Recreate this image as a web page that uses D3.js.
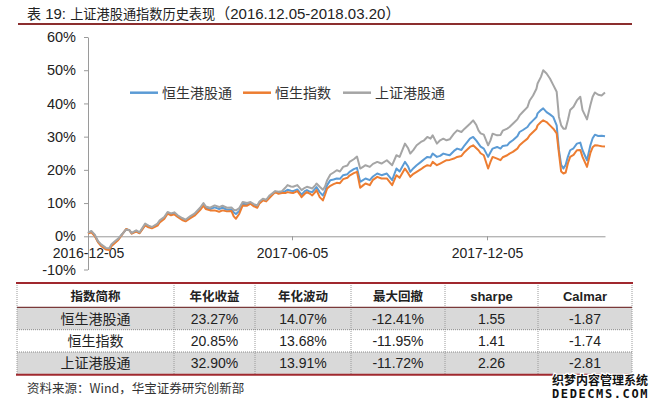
<!DOCTYPE html>
<html><head><meta charset="utf-8">
<script src="https://cdn.jsdelivr.net/npm/d3@7/dist/d3.min.js"></script>
<style>body{margin:0;background:#fff}svg{display:block}</style>
</head><body>
<svg id="c" width="660" height="404"></svg>
<script>
// ---------------- data ----------------
const dates = [
"2016-12-05","2016-12-08","2016-12-11","2016-12-14","2016-12-17","2016-12-21","2016-12-24","2016-12-26","2016-12-29","2017-01-01",
"2017-01-04","2017-01-08","2017-01-11","2017-01-13","2017-01-17","2017-01-20","2017-01-25","2017-01-28","2017-01-31","2017-02-05",
"2017-02-07","2017-02-11","2017-02-14","2017-02-17","2017-02-20","2017-02-23","2017-02-27","2017-03-02","2017-03-06","2017-03-10",
"2017-03-15","2017-03-18","2017-03-20","2017-03-24","2017-03-28","2017-04-01","2017-04-04","2017-04-08","2017-04-12","2017-04-14",
"2017-04-16","2017-04-19","2017-04-22","2017-04-26","2017-04-29","2017-05-02","2017-05-05","2017-05-07","2017-05-10","2017-05-13",
"2017-05-16","2017-05-21","2017-05-24","2017-05-27","2017-05-30","2017-06-01","2017-06-04",
"2017-06-06","2017-06-10","2017-06-13","2017-06-14","2017-06-17","2017-06-19","2017-06-22","2017-06-24","2017-06-27","2017-06-28",
"2017-07-01","2017-07-04","2017-07-06","2017-07-08","2017-07-11","2017-07-14","2017-07-17","2017-07-20","2017-07-23","2017-07-27",
"2017-07-29","2017-08-02","2017-08-05","2017-08-08","2017-08-11","2017-08-13","2017-08-17","2017-08-20","2017-08-24","2017-08-28",
"2017-09-02","2017-09-07","2017-09-11","2017-09-14","2017-09-19","2017-09-22","2017-09-24","2017-09-27","2017-09-30","2017-10-04",
"2017-10-07","2017-10-10","2017-10-13","2017-10-15","2017-10-19","2017-10-22","2017-10-25","2017-10-28","2017-10-31","2017-11-04",
"2017-11-07","2017-11-11","2017-11-14","2017-11-19","2017-11-22","2017-11-25","2017-11-27","2017-11-29","2017-12-02",
"2017-12-06","2017-12-08","2017-12-10","2017-12-14","2017-12-17","2017-12-19","2017-12-23","2017-12-25","2017-12-28","2018-01-01",
"2018-01-03","2018-01-06","2018-01-10","2018-01-12","2018-01-15","2018-01-18","2018-01-19","2018-01-22","2018-01-24","2018-01-27",
"2018-01-30","2018-02-02","2018-02-05","2018-02-07","2018-02-09","2018-02-11","2018-02-13","2018-02-15","2018-02-17","2018-02-20",
"2018-02-23","2018-02-26","2018-02-28","2018-03-04","2018-03-07","2018-03-09","2018-03-11","2018-03-14","2018-03-17","2018-03-20"
];
const seriesNames = ["恒生港股通", "恒生指数", "上证港股通"];
// 恒生港股通 (blue)
const hsgt = [
0.9,1.4,0.3,-1.7,-2.8,-3.8,-3.9,-2.7,-1.8,-0.9, 0.4,2.1,1.8,0.9,1.6,1.0,3.5,2.9,2.6,3.5,
4.5,5.5,7.0,6.6,6.9,6.0,5.2,4.7,5.7,6.5, 8.3,9.5,8.6,8.2,8.7,8.2,8.6,8.0,8.1,7.2,
6.7,7.6,9.8,9.6,10.0,9.3,8.9,10.2,11.0,10.8, 11.9,13.4,13.1,13.3,13.6,14.0,13.7,
13.6,14.1,12.9,12.5,13.6,13.9,13.4,13.3,14.4,14.8, 13.3,12.3,13.6,15.4,16.9,17.1,17.4,17.3,18.4,18.7,
19.4,20.2,20.6,16.4,17.0,17.4,16.9,18.0,18.9,18.4, 18.9,16.9,20.4,19.5,22.4,21.0,19.4,20.5,21.4,22.4,
23.2,23.9,23.7,24.9,23.9,24.2,24.9,24.6,24.4,25.7, 26.4,26.0,27.4,29.4,29.9,28.8,27.9,27.0,26.4,
23.9,25.2,26.4,26.9,26.4,27.2,27.4,28.2,28.9,30.1, 31.4,32.0,32.9,33.9,34.9,35.9,37.0,38.0,38.5,37.4,
36.7,35.9,33.4,26.0,21.5,20.4,21.5,24.0,25.9,26.5, 27.9,28.2,25.9,22.9,27.4,29.5,30.6,30.2,30.3,30.1
];
// 恒生指数 (orange)
const hsi = [
0.8,1.2,0.1,-1.8,-3.0,-4.0,-4.1,-2.9,-2.0,-1.1, 0.3,2.2,1.8,0.8,1.4,0.9,3.3,2.7,2.4,3.2,
4.2,5.2,6.8,6.3,6.6,5.8,4.9,4.5,5.4,6.2, 7.9,9.2,8.2,7.8,7.8,7.4,7.8,7.5,7.6,6.0,
5.3,6.8,9.3,9.2,9.8,9.0,8.6,9.9,10.8,10.5, 11.6,13.3,12.8,13.0,13.0,13.3,13.1,
13.0,13.6,12.3,11.8,12.8,13.3,12.8,12.3,13.4,13.9, 11.8,10.8,12.5,14.4,15.2,15.7,16.1,16.0,17.2,17.6,
18.3,19.0,19.4,14.6,15.4,15.9,15.4,17.0,17.9,17.4, 17.4,15.4,18.4,17.6,20.4,19.0,17.9,18.8,19.4,20.2,
20.9,21.4,21.2,22.4,21.4,21.9,22.4,22.9,23.0,23.4, 23.9,24.2,25.4,26.9,27.4,26.5,25.9,25.0,24.4,
20.4,22.3,23.9,23.4,22.9,23.8,24.4,24.9,25.4,26.4, 27.4,28.3,29.4,30.4,31.4,32.4,33.4,34.4,34.9,34.4,
33.4,32.4,31.0,25.0,19.5,18.9,19.2,22.0,23.9,24.5, 25.9,26.0,23.9,20.9,25.1,26.8,27.4,27.3,27.1,27.0
];
// 上证港股通 (gray)
const shgt = [
1.0,1.6,0.5,-1.5,-2.5,-3.5,-3.6,-2.4,-1.5,-0.7, 0.5,2.0,1.8,1.0,1.8,1.2,3.8,3.2,2.8,3.8,
4.8,5.8,7.3,6.9,7.2,6.3,5.5,5.0,6.0,6.8, 8.6,10.0,9.0,8.6,9.3,8.8,9.2,8.6,8.7,8.0,
7.8,8.5,10.3,10.0,10.3,9.7,9.3,10.5,11.3,11.0, 12.3,13.6,13.4,13.6,14.6,15.4,15.0,
14.9,15.4,14.3,13.9,14.6,14.9,14.6,14.4,15.4,15.9, 14.9,14.0,15.0,16.9,18.6,19.2,19.9,19.5,20.9,21.3,
22.4,23.2,24.0,20.4,21.0,21.4,20.9,21.8,22.4,21.9, 22.9,21.4,24.4,23.9,27.9,26.5,24.9,26.0,27.4,28.4,
28.9,29.9,29.4,30.4,27.9,28.9,29.4,28.9,29.2,30.9, 31.9,31.4,32.4,33.9,34.9,33.5,31.9,31.0,30.6,
27.4,28.8,30.9,30.4,30.5,31.8,32.4,32.9,33.9,35.2, 36.4,37.5,38.9,40.9,42.4,44.4,46.0,48.0,50.0,49.0,
47.5,45.5,43.5,36.0,33.4,32.4,32.4,35.0,38.0,39.0, 40.9,42.0,38.0,35.2,39.5,42.0,43.3,42.6,42.4,43.3
];
const yTicks = [-10, 0, 10, 20, 30, 40, 50, 60];
const xTickDates = ["2016-12-05", "2017-06-05", "2017-12-05"];
const dateDomain = ["2016-12-05", "2017-06-05", "2017-12-05", "2018-03-20"];

const tableHeader = ["指数简称", "年化收益", "年化波动", "最大回撤", "sharpe", "Calmar"];
const tableNames = ["恒生港股通", "恒生指数", "上证港股通"];
const annReturn = ["23.27%", "20.85%", "32.90%"];
const annVol = ["14.07%", "13.68%", "13.91%"];
const maxDD = ["-12.41%", "-11.95%", "-11.72%"];
const sharpe = ["1.55", "1.41", "2.26"];
const calmar = ["-1.87", "-1.74", "-2.81"];

// ---------------- drawing ----------------
const svg = d3.select("#c");
const LAT = "'Liberation Sans', Arial, 'Noto Sans CJK SC', sans-serif";
const CJK = "'Noto Sans CJK SC', 'Liberation Sans', sans-serif";
const colors = ["#5B9BD5", "#ED7D31", "#A5A5A5"];
const parse = d3.timeParse("%Y-%m-%d");

// title
const title = svg.append("text").attr("x", 27).attr("y", 18.5).attr("fill", "#222");
title.append("tspan").attr("font-family", CJK).attr("font-size", 14).text("表");
title.append("tspan").attr("font-family", LAT).attr("font-size", 15).text(" 19: ");
title.append("tspan").attr("font-family", CJK).attr("font-size", 13.2).text("上证港股通指数历史表现");
title.append("tspan").attr("font-family", LAT).attr("font-size", 15).text("（2016.12.05-2018.03.20）");
svg.append("line").attr("x1", 18).attr("x2", 632).attr("y1", 24).attr("y2", 24)
  .attr("stroke", "#8B2E2E").attr("stroke-width", 2);

// scales
const x = d3.scaleTime().domain(dateDomain.map(parse)).range([88, 292, 487, 605]);
const y = d3.scaleLinear().domain([-10, 60]).range([269.5, 37]);

// y axis
const gy = svg.append("g").attr("transform", "translate(88,0)")
  .call(d3.axisLeft(y).tickValues(yTicks).tickFormat(d => d + "%").tickSize(4).tickSizeOuter(0).tickPadding(8));
gy.select(".domain").attr("stroke", "#9a9a9a");
gy.selectAll(".tick line").attr("stroke", "#9a9a9a");
gy.selectAll("text").attr("font-family", LAT).attr("font-size", 14.5).attr("fill", "#222");

// x axis
const gx = svg.append("g").attr("transform", `translate(0,${y(0)})`)
  .call(d3.axisBottom(x).tickValues(xTickDates.map(parse)).tickFormat(d3.timeFormat("%Y-%m-%d"))
    .tickSize(4).tickSizeOuter(0).tickPadding(8));
gx.select(".domain").attr("stroke", "#9a9a9a");
gx.selectAll(".tick line").attr("stroke", "#9a9a9a");
gx.selectAll("text").attr("font-family", LAT).attr("font-size", 14).attr("fill", "#222");

// lines
const seriesData = [hsgt, hsi, shgt];
const line = d3.line().x(d => x(d.date)).y(d => y(d.v));
seriesData.forEach((vals, i) => {
  const pts = dates.map((d, j) => ({ date: parse(d), v: vals[j] }));
  svg.append("path").datum(pts).attr("d", line).attr("fill", "none")
    .attr("stroke", colors[i]).attr("stroke-width", 2).attr("stroke-linejoin", "round");
});

// legend
const legX = [130, 243, 343];
seriesNames.forEach((n, i) => {
  svg.append("line").attr("x1", legX[i]).attr("x2", legX[i] + 28).attr("y1", 92.7).attr("y2", 92.7)
    .attr("stroke", colors[i]).attr("stroke-width", 2.5);
  svg.append("text").attr("x", legX[i] + 32).attr("y", 92.7).attr("dy", "0.36em")
    .attr("font-family", CJK).attr("font-size", 14).attr("fill", "#333").text(n);
});

// table
const colEdges = [17, 174, 255, 351, 445, 538, 632];
const rowEdges = [283, 307.3, 329.7, 352, 374.7];
const rowsTxt = tableNames.map((n, i) => [n, annReturn[i], annVol[i], maxDD[i], sharpe[i], calmar[i]]);
// fills
[0, 2].forEach(r => {
  svg.append("rect").attr("x", colEdges[0]).attr("y", rowEdges[r + 1])
    .attr("width", colEdges[6] - colEdges[0]).attr("height", rowEdges[r + 2] - rowEdges[r + 1])
    .attr("fill", "#D9D9D9");
});
// dotted verticals
colEdges.forEach(cx => {
  svg.append("line").attr("x1", cx).attr("x2", cx).attr("y1", rowEdges[0]).attr("y2", rowEdges[4])
    .attr("stroke", "#9a9a9a").attr("stroke-width", 1).attr("stroke-dasharray", "1,1");
});
// dotted horizontals between body rows
[2, 3].forEach(r => {
  svg.append("line").attr("x1", colEdges[0]).attr("x2", colEdges[6]).attr("y1", rowEdges[r]).attr("y2", rowEdges[r])
    .attr("stroke", "#8a8a8a").attr("stroke-width", 1).attr("stroke-dasharray", "1,1");
});
// header bottom
svg.append("line").attr("x1", colEdges[0]).attr("x2", colEdges[6]).attr("y1", rowEdges[1]).attr("y2", rowEdges[1])
  .attr("stroke", "#7a3a3a").attr("stroke-width", 1.3);
// top / bottom red
[rowEdges[0], rowEdges[4]].forEach(ry => {
  svg.append("line").attr("x1", colEdges[0] - 1).attr("x2", colEdges[6] + 1).attr("y1", ry).attr("y2", ry)
    .attr("stroke", "#A0282E").attr("stroke-width", 2);
});
// header text
tableHeader.forEach((h, c) => {
  const isLatin = /^[A-Za-z]/.test(h);
  svg.append("text").attr("x", (colEdges[c] + colEdges[c + 1]) / 2).attr("y", (rowEdges[0] + rowEdges[1]) / 2 + 1)
    .attr("dy", "0.36em").attr("text-anchor", "middle")
    .attr("font-family", isLatin ? LAT : CJK).attr("font-weight", "bold")
    .attr("font-size", isLatin ? 13 : 12.5).attr("fill", "#222").text(h);
});
// body text
rowsTxt.forEach((row, r) => {
  row.forEach((t, c) => {
    svg.append("text").attr("x", (colEdges[c] + colEdges[c + 1]) / 2).attr("y", (rowEdges[r + 1] + rowEdges[r + 2]) / 2)
      .attr("dy", "0.36em").attr("text-anchor", "middle")
      .attr("font-family", c === 0 ? CJK : LAT).attr("font-size", 14)
      .attr("fill", "#222").text(t);
  });
});

// source
svg.append("text").attr("x", 27).attr("y", 388).attr("dy", "0.36em")
  .attr("font-family", CJK).attr("font-size", 12.5).attr("fill", "#333")
  .text("资料来源：Wind，华宝证券研究创新部");

// watermark
svg.append("text").attr("x", 552).attr("y", 381).attr("dy", "0.36em")
  .attr("font-family", CJK).attr("font-weight", "bold").attr("font-size", 12)
  .attr("fill", "#111").attr("stroke", "#fff").attr("stroke-width", 2.5).attr("paint-order", "stroke")
  .text("织梦内容管理系统");
svg.append("text").attr("x", 552).attr("y", 394).attr("dy", "0.36em")
  .attr("font-family", "'DejaVu Sans Mono', monospace").attr("font-weight", "bold").attr("font-size", 12)
  .attr("letter-spacing", 1.6)
  .attr("fill", "#111").attr("stroke", "#fff").attr("stroke-width", 2.5).attr("paint-order", "stroke")
  .text("DEDECMS.COM");
</script>
</body></html>
